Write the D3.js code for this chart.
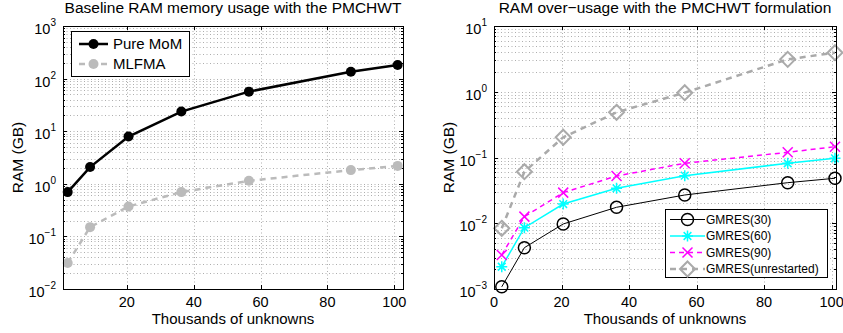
<!DOCTYPE html>
<html lang="en">
<head>
    <meta charset="UTF-8">
    <title>RAM usage</title>
    <style>
        body { margin: 0; background: #fff; }
        text { font-family: Arial, "Liberation Sans", Helvetica, sans-serif; }
    </style>
</head>
<body></body>
<script src="https://cdn.jsdelivr.net/npm/d3@7"></script>
<script>
    // data (thousands of unknowns vs RAM in GB)
    const unknowns = [2.3, 9, 20.5, 36.3, 56.5, 87, 101];
    const pureMoM = [0.695, 2.08, 7.9, 23.6, 56.5, 135, 181];
    const mlfma = [0.0312, 0.15, 0.371, 0.695, 1.14, 1.82, 2.19];

    const gmres30 = [0.00108, 0.00425, 0.00975, 0.0175, 0.0269, 0.0414, 0.0483];
    const gmres60 = [0.00218, 0.00855, 0.0196, 0.034, 0.0529, 0.0817, 0.0973];
    const gmres90 = [0.00329, 0.0126, 0.0292, 0.0523, 0.0817, 0.12, 0.146];
    const gmresFull = [0.00838, 0.0608, 0.203, 0.487, 0.968, 3.11, 3.93];

    const xTicks = [0, 20, 40, 60, 80, 100];

    const width = 843, height = 333;
    const svg = d3.select("body").append("svg")
        .attr("width", width).attr("height", height);

    function panel(opt) {
        const g = svg.append("g");
        const x = d3.scaleLinear().domain(opt.xDomain).range([opt.left, opt.right]);
        const y = d3.scaleLog().domain(opt.yDomain).range([opt.bottom, opt.top]);
        const e0 = Math.log10(opt.yDomain[0]), e1 = Math.log10(opt.yDomain[1]);

        // grid: minor + major on y, major on x
        const grid = g.append("g").attr("stroke", "#999").attr("stroke-width", 0.8)
            .attr("stroke-dasharray", "1,2.5");
        for (let e = e0; e < e1; e++) {
            for (let m = 1; m < 10; m++) {
                const v = m * Math.pow(10, e);
                if (e === e0 && m === 1) continue;
                grid.append("line").attr("x1", opt.left).attr("x2", opt.right)
                    .attr("y1", Math.round(y(v)) + 0.5).attr("y2", Math.round(y(v)) + 0.5);
            }
        }
        xTicks.filter(t => t > opt.xDomain[0] && t < opt.xDomain[1]).forEach(t => {
            grid.append("line").attr("y1", opt.top).attr("y2", opt.bottom)
                .attr("x1", Math.round(x(t)) + 0.5).attr("x2", Math.round(x(t)) + 0.5);
        });

        // ticks inside the box
        const tk = g.append("g").attr("stroke", "#000").attr("stroke-width", 1);
        for (let e = e0; e <= e1; e++) {
            for (let m = 1; m < 10; m++) {
                const v = m * Math.pow(10, e);
                if (v > opt.yDomain[1]) break;
                const len = m === 1 ? 4 : 2;
                const yy = Math.round(y(v)) + 0.5;
                tk.append("line").attr("x1", opt.left).attr("x2", opt.left + len).attr("y1", yy).attr("y2", yy);
                tk.append("line").attr("x1", opt.right).attr("x2", opt.right - len).attr("y1", yy).attr("y2", yy);
            }
        }
        xTicks.filter(t => t >= opt.xDomain[0] && t <= opt.xDomain[1]).forEach(t => {
            const xx = Math.round(x(t)) + 0.5;
            tk.append("line").attr("x1", xx).attr("x2", xx).attr("y1", opt.bottom).attr("y2", opt.bottom - 4);
            tk.append("line").attr("x1", xx).attr("x2", xx).attr("y1", opt.top).attr("y2", opt.top + 4);
        });

        // tick labels
        xTicks.filter(t => t >= opt.xDomain[0] && t <= opt.xDomain[1]).forEach(t => {
            g.append("text").attr("x", x(t)).attr("y", opt.bottom + 18)
                .attr("text-anchor", "middle").attr("font-size", 14.5).text(t);
        });
        for (let e = e0; e <= e1; e++) {
            const t = g.append("text").attr("x", opt.left - 7).attr("y", y(Math.pow(10, e)) + 8)
                .attr("text-anchor", "end").attr("font-size", 14.5);
            t.append("tspan").text("10");
            t.append("tspan").attr("dy", -8).attr("font-size", 10)
                .text(e < 0 ? "\u2212" + (-e) : String(e));
        }

        // titles
        g.append("text").attr("x", (opt.left + opt.right) / 2).attr("y", 13)
            .attr("text-anchor", "middle").attr("font-size", 15.5).text(opt.title);
        g.append("text").attr("x", (opt.left + opt.right) / 2).attr("y", 324)
            .attr("text-anchor", "middle").attr("font-size", 15).text("Thousands of unknowns");
        g.append("text").attr("transform", `translate(${opt.left - 40},${(opt.top + opt.bottom) / 2}) rotate(-90)`)
            .attr("text-anchor", "middle").attr("font-size", 15.5).text("RAM (GB)");

        return { g, x, y };
    }

    function marker(sel, type, cx, cy, s) {
        if (type === "dot") {
            sel.append("circle").attr("cx", cx).attr("cy", cy).attr("r", s.r).attr("fill", s.color);
        } else if (type === "circle") {
            sel.append("circle").attr("cx", cx).attr("cy", cy).attr("r", s.r)
                .attr("fill", "none").attr("stroke", s.color).attr("stroke-width", s.mw);
        } else if (type === "star") {
            const r = s.r;
            const d = `M${cx - r},${cy}L${cx + r},${cy}M${cx},${cy - r}L${cx},${cy + r}` +
                `M${cx - r * 0.7},${cy - r * 0.7}L${cx + r * 0.7},${cy + r * 0.7}` +
                `M${cx - r * 0.7},${cy + r * 0.7}L${cx + r * 0.7},${cy - r * 0.7}`;
            sel.append("path").attr("d", d).attr("stroke", s.color).attr("stroke-width", s.mw).attr("fill", "none");
        } else if (type === "x") {
            const r = s.r;
            const d = `M${cx - r},${cy - r}L${cx + r},${cy + r}M${cx - r},${cy + r}L${cx + r},${cy - r}`;
            sel.append("path").attr("d", d).attr("stroke", s.color).attr("stroke-width", s.mw).attr("fill", "none");
        } else if (type === "diamond") {
            const r = s.r;
            sel.append("path").attr("d", `M${cx},${cy - r}L${cx + r},${cy}L${cx},${cy + r}L${cx - r},${cy}Z`)
                .attr("stroke", s.color).attr("stroke-width", s.mw).attr("fill", "none");
        }
    }

    function series(p, vals, s) {
        const line = d3.line().x((d, i) => p.x(unknowns[i])).y(d => p.y(d));
        p.g.append("path").datum(vals).attr("d", line).attr("fill", "none")
            .attr("stroke", s.color).attr("stroke-width", s.lw)
            .attr("stroke-dasharray", s.dash || null);
        const mg = p.g.append("g");
        vals.forEach((v, i) => marker(mg, s.type, p.x(unknowns[i]), p.y(v), s));
    }

    function legend(g, box, items) {
        g.append("rect").attr("x", box.x + 0.5).attr("y", box.y + 0.5).attr("width", box.w).attr("height", box.h)
            .attr("fill", "#fff").attr("stroke", "#000").attr("stroke-width", 1);
        items.forEach((s, i) => {
            const yy = box.y + box.first + i * box.step;
            g.append("line").attr("x1", box.x + box.l0).attr("x2", box.x + box.l1).attr("y1", yy).attr("y2", yy)
                .attr("stroke", s.color).attr("stroke-width", s.lw).attr("stroke-dasharray", s.dash || null);
            marker(g, s.type, box.x + (box.l0 + box.l1) / 2, yy, s);
            g.append("text").attr("x", box.x + box.tx).attr("y", yy + box.fs * 0.36)
                .attr("font-size", box.fs).text(s.name);
        });
    }

    // left panel
    const pL = panel({
        left: 63, right: 403, top: 26, bottom: 289,
        xDomain: [0.9, 102.6], yDomain: [1e-2, 1e3],
        title: "Baseline RAM memory usage with the PMCHWT"
    });
    const sMoM = { name: "Pure MoM", color: "#000", lw: 2.5, type: "dot", r: 5 };
    const sML = { name: "MLFMA", color: "#bbbbbb", lw: 2.5, dash: "6,5", type: "dot", r: 5 };
    series(pL, mlfma, sML);
    series(pL, pureMoM, sMoM);
    legend(pL.g, { x: 71, y: 31, w: 118, h: 45, first: 13, step: 20, l0: 8, l1: 37, tx: 42, fs: 15 }, [sMoM, sML]);

    // right panel
    const pR = panel({
        left: 494, right: 836, top: 26, bottom: 289,
        xDomain: [0, 101.3], yDomain: [1e-3, 1e1],
        title: "RAM over\u2212usage with the PMCHWT formulation"
    });
    const s30 = { name: "GMRES(30)", color: "#000", lw: 1, type: "circle", r: 6, mw: 1.5 };
    const s60 = { name: "GMRES(60)", color: "#00ffff", lw: 1.5, type: "star", r: 5.5, mw: 1.5 };
    const s90 = { name: "GMRES(90)", color: "#ff00ff", lw: 1.5, dash: "5,4", type: "x", r: 5, mw: 1.5 };
    const sFull = { name: "GMRES(unrestarted)", color: "#aaaaaa", lw: 2.5, dash: "6,5", type: "diamond", r: 7.5, mw: 2 };
    series(pR, gmresFull, sFull);
    series(pR, gmres30, s30);
    series(pR, gmres60, s60);
    series(pR, gmres90, s90);
    legend(pR.g, { x: 665, y: 209, w: 162, h: 68, first: 10.5, step: 16.5, l0: 5, l1: 40, tx: 41, fs: 12 }, [s30, s60, s90, sFull]);

    // frames on top
    [[63, 403], [494, 836]].forEach(([l, r]) => {
        svg.append("rect").attr("x", l + 0.5).attr("y", 26.5).attr("width", r - l).attr("height", 263)
            .attr("fill", "none").attr("stroke", "#000").attr("stroke-width", 1);
    });
</script>
</html>
